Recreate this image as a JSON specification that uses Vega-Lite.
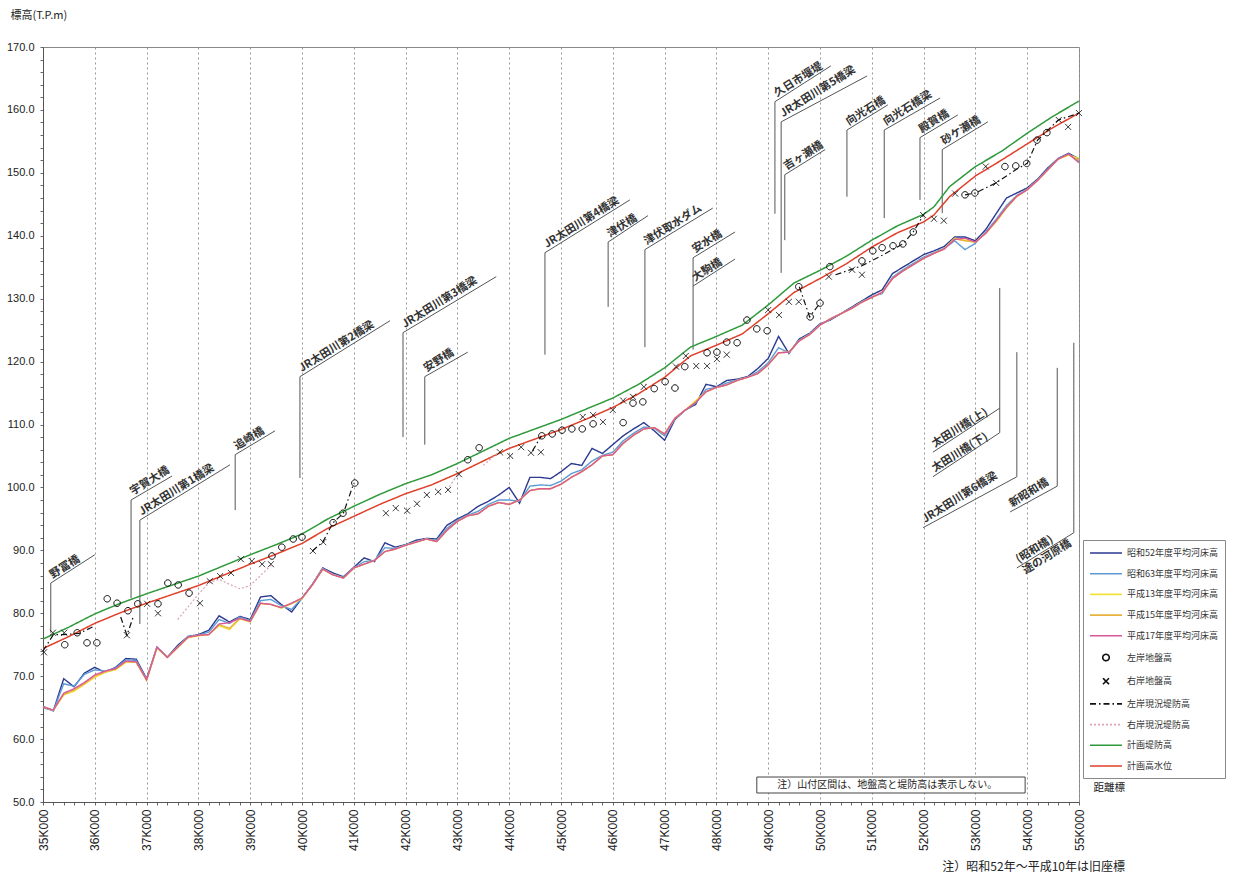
{
  "$schema": "https://vega.github.io/schema/vega-lite/v6.json",
  "width": 1036,
  "height": 755,
  "autosize": {"type": "none"},
  "padding": {"left": 43, "top": 47, "right": 161, "bottom": 79},
  "background": "white",
  "title": {"text": "注）昭和52年～平成10年は旧座標", "orient": "bottom", "anchor": "end", "frame": "group", "dx": 46, "offset": 12, "fontSize": 12, "fontWeight": "normal", "font": "Noto Sans CJK JP", "color": "#222"},
  "config": {
    "font": "Noto Sans CJK JP",
    "view": {"stroke": "#888", "strokeWidth": 1},
    "legend": {"orient": "none", "legendX": 1040, "legendY": 493, "padding": 7, "strokeColor": "#888", "fillColor": "#ffffff", "labelFontSize": 9, "labelFont": "Noto Sans CJK JP", "labelColor": "#333", "rowPadding": 9.7, "symbolStrokeWidth": 1.6, "symbolSize": 100, "symbolOffset": 10, "labelOffset": 15}
  },
  "datasets": {
    "bed": [
      {"k":35.0,"昭和52年度平均河床高":65.2,"昭和63年度平均河床高":65.0,"平成13年度平均河床高":65.1,"平成15年度平均河床高":65.1,"平成17年度平均河床高":65.1},
      {"k":35.2,"昭和52年度平均河床高":64.5,"昭和63年度平均河床高":64.5,"平成13年度平均河床高":64.6,"平成15年度平均河床高":64.6,"平成17年度平均河床高":64.6},
      {"k":35.4,"昭和52年度平均河床高":69.6,"昭和63年度平均河床高":68.8,"平成13年度平均河床高":67.0,"平成15年度平均河床高":67.1,"平成17年度平均河床高":67.3},
      {"k":35.6,"昭和52年度平均河床高":68.3,"昭和63年度平均河床高":68.4,"平成13年度平均河床高":67.6,"平成15年度平均河床高":67.8,"平成17年度平均河床高":68.0},
      {"k":35.8,"昭和52年度平均河床高":70.5,"昭和63年度平均河床高":70.3,"平成13年度平均河床高":68.7,"平成15年度平均河床高":68.8,"平成17年度平均河床高":69.0},
      {"k":36.0,"昭和52年度平均河床高":71.4,"昭和63年度平均河床高":71.0,"平成13年度平均河床高":69.8,"平成15年度平均河床高":70.0,"平成17年度平均河床高":70.2},
      {"k":36.2,"昭和52年度平均河床高":70.6,"昭和63年度平均河床高":70.8,"平成13年度平均河床高":70.6,"平成15年度平均河床高":70.7,"平成17年度平均河床高":70.8},
      {"k":36.4,"昭和52年度平均河床高":71.4,"昭和63年度平均河床高":71.3,"平成13年度平均河床高":71.0,"平成15年度平均河床高":71.1,"平成17年度平均河床高":71.2},
      {"k":36.6,"昭和52年度平均河床高":72.8,"昭和63年度平均河床高":72.6,"平成13年度平均河床高":72.2,"平成15年度平均河床高":72.3,"平成17年度平均河床高":72.4},
      {"k":36.8,"昭和52年度平均河床高":72.7,"昭和63年度平均河床高":72.5,"平成13年度平均河床高":72.2,"平成15年度平均河床高":72.2,"平成17年度平均河床高":72.3},
      {"k":37.0,"昭和52年度平均河床高":69.6,"昭和63年度平均河床高":69.5,"平成13年度平均河床高":69.3,"平成15年度平均河床高":69.4,"平成17年度平均河床高":69.4},
      {"k":37.2,"昭和52年度平均河床高":74.6,"昭和63年度平均河床高":74.6,"平成13年度平均河床高":74.5,"平成15年度平均河床高":74.5,"平成17年度平均河床高":74.6},
      {"k":37.4,"昭和52年度平均河床高":73.0,"昭和63年度平均河床高":73.0,"平成13年度平均河床高":73.0,"平成15年度平均河床高":73.0,"平成17年度平均河床高":73.0},
      {"k":37.6,"昭和52年度平均河床高":74.9,"昭和63年度平均河床高":74.7,"平成13年度平均河床高":74.5,"平成15年度平均河床高":74.6,"平成17年度平均河床高":74.6},
      {"k":37.8,"昭和52年度平均河床高":76.3,"昭和63年度平均河床高":76.3,"平成13年度平均河床高":76.1,"平成15年度平均河床高":76.2,"平成17年度平均河床高":76.2},
      {"k":38.0,"昭和52年度平均河床高":76.6,"昭和63年度平均河床高":76.5,"平成13年度平均河床高":76.4,"平成15年度平均河床高":76.5,"平成17年度平均河床高":76.5},
      {"k":38.2,"昭和52年度平均河床高":77.3,"昭和63年度平均河床高":77.0,"平成13年度平均河床高":76.6,"平成15年度平均河床高":76.6,"平成17年度平均河床高":76.6},
      {"k":38.4,"昭和52年度平均河床高":79.6,"昭和63年度平均河床高":79.0,"平成13年度平均河床高":78.0,"平成15年度平均河床高":78.2,"平成17年度平均河床高":78.3},
      {"k":38.6,"昭和52年度平均河床高":78.6,"昭和63年度平均河床高":78.4,"平成13年度平均河床高":77.4,"平成15年度平均河床高":77.6,"平成17年度平均河床高":78.5},
      {"k":38.8,"昭和52年度平均河床高":79.5,"昭和63年度平均河床高":79.4,"平成13年度平均河床高":79.1,"平成15年度平均河床高":79.2,"平成17年度平均河床高":79.2},
      {"k":39.0,"昭和52年度平均河床高":79.0,"昭和63年度平均河床高":78.8,"平成13年度平均河床高":78.6,"平成15年度平均河床高":78.7,"平成17年度平均河床高":78.7},
      {"k":39.2,"昭和52年度平均河床高":82.6,"昭和63年度平均河床高":82.0,"平成13年度平均河床高":81.5,"平成15年度平均河床高":81.6,"平成17年度平均河床高":81.6},
      {"k":39.4,"昭和52年度平均河床高":82.8,"昭和63年度平均河床高":82.2,"平成13年度平均河床高":81.4,"平成15年度平均河床高":81.4,"平成17年度平均河床高":81.4},
      {"k":39.6,"昭和52年度平均河床高":81.4,"昭和63年度平均河床高":81.2,"平成13年度平均河床高":80.8,"平成15年度平均河床高":80.9,"平成17年度平均河床高":80.9},
      {"k":39.8,"昭和52年度平均河床高":80.2,"昭和63年度平均河床高":80.6,"平成13年度平均河床高":81.5,"平成15年度平均河床高":81.6,"平成17年度平均河床高":81.6},
      {"k":40.0,"昭和52年度平均河床高":82.4,"昭和63年度平均河床高":82.4,"平成13年度平均河床高":82.3,"平成15年度平均河床高":82.4,"平成17年度平均河床高":82.4},
      {"k":40.2,"昭和52年度平均河床高":84.6,"昭和63年度平均河床高":84.6,"平成13年度平均河床高":84.5,"平成15年度平均河床高":84.5,"平成17年度平均河床高":84.5},
      {"k":40.4,"昭和52年度平均河床高":87.2,"昭和63年度平均河床高":87.1,"平成13年度平均河床高":87.0,"平成15年度平均河床高":87.0,"平成17年度平均河床高":87.0},
      {"k":40.6,"昭和52年度平均河床高":86.4,"昭和63年度平均河床高":86.2,"平成13年度平均河床高":86.1,"平成15年度平均河床高":86.1,"平成17年度平均河床高":86.1},
      {"k":40.8,"昭和52年度平均河床高":85.8,"昭和63年度平均河床高":85.7,"平成13年度平均河床高":85.6,"平成15年度平均河床高":85.6,"平成17年度平均河床高":85.6},
      {"k":41.0,"昭和52年度平均河床高":87.3,"昭和63年度平均河床高":87.2,"平成13年度平均河床高":87.2,"平成15年度平均河床高":87.2,"平成17年度平均河床高":87.2},
      {"k":41.2,"昭和52年度平均河床高":88.8,"昭和63年度平均河床高":88.2,"平成13年度平均河床高":87.8,"平成15年度平均河床高":87.8,"平成17年度平均河床高":87.8},
      {"k":41.4,"昭和52年度平均河床高":88.2,"昭和63年度平均河床高":88.4,"平成13年度平均河床高":88.4,"平成15年度平均河床高":88.4,"平成17年度平均河床高":88.4},
      {"k":41.6,"昭和52年度平均河床高":91.2,"昭和63年度平均河床高":90.4,"平成13年度平均河床高":89.8,"平成15年度平均河床高":89.8,"平成17年度平均河床高":89.8},
      {"k":41.8,"昭和52年度平均河床高":90.5,"昭和63年度平均河床高":90.3,"平成13年度平均河床高":90.2,"平成15年度平均河床高":90.2,"平成17年度平均河床高":90.2},
      {"k":42.0,"昭和52年度平均河床高":90.9,"昭和63年度平均河床高":90.9,"平成13年度平均河床高":90.8,"平成15年度平均河床高":90.8,"平成17年度平均河床高":90.8},
      {"k":42.2,"昭和52年度平均河床高":91.6,"昭和63年度平均河床高":91.4,"平成13年度平均河床高":91.3,"平成15年度平均河床高":91.3,"平成17年度平均河床高":91.3},
      {"k":42.4,"昭和52年度平均河床高":91.9,"昭和63年度平均河床高":91.8,"平成13年度平均河床高":91.8,"平成15年度平均河床高":91.8,"平成17年度平均河床高":91.8},
      {"k":42.6,"昭和52年度平均河床高":91.8,"昭和63年度平均河床高":91.6,"平成13年度平均河床高":91.4,"平成15年度平均河床高":91.4,"平成17年度平均河床高":91.4},
      {"k":42.8,"昭和52年度平均河床高":94.0,"昭和63年度平均河床高":93.5,"平成13年度平均河床高":93.2,"平成15年度平均河床高":93.2,"平成17年度平均河床高":93.2},
      {"k":43.0,"昭和52年度平均河床高":95.0,"昭和63年度平均河床高":94.8,"平成13年度平均河床高":94.6,"平成15年度平均河床高":94.6,"平成17年度平均河床高":94.6},
      {"k":43.2,"昭和52年度平均河床高":95.8,"昭和63年度平均河床高":95.6,"平成13年度平均河床高":95.5,"平成15年度平均河床高":95.5,"平成17年度平均河床高":95.5},
      {"k":43.4,"昭和52年度平均河床高":97.0,"昭和63年度平均河床高":96.2,"平成13年度平均河床高":95.8,"平成15年度平均河床高":95.8,"平成17年度平均河床高":95.8},
      {"k":43.6,"昭和52年度平均河床高":97.8,"昭和63年度平均河床高":97.3,"平成13年度平均河床高":97.0,"平成15年度平均河床高":97.0,"平成17年度平均河床高":97.0},
      {"k":43.8,"昭和52年度平均河床高":98.8,"昭和63年度平均河床高":98.0,"平成13年度平均河床高":97.6,"平成15年度平均河床高":97.6,"平成17年度平均河床高":97.6},
      {"k":44.0,"昭和52年度平均河床高":100.0,"昭和63年度平均河床高":98.0,"平成13年度平均河床高":97.3,"平成15年度平均河床高":97.3,"平成17年度平均河床高":97.3},
      {"k":44.2,"昭和52年度平均河床高":97.5,"昭和63年度平均河床高":97.8,"平成13年度平均河床高":98.0,"平成15年度平均河床高":98.0,"平成17年度平均河床高":98.0},
      {"k":44.4,"昭和52年度平均河床高":101.6,"昭和63年度平均河床高":100.2,"平成13年度平均河床高":99.5,"平成15年度平均河床高":99.5,"平成17年度平均河床高":99.5},
      {"k":44.6,"昭和52年度平均河床高":101.6,"昭和63年度平均河床高":100.4,"平成13年度平均河床高":99.8,"平成15年度平均河床高":99.8,"平成17年度平均河床高":99.8},
      {"k":44.8,"昭和52年度平均河床高":101.4,"昭和63年度平均河床高":100.3,"平成13年度平均河床高":99.8,"平成15年度平均河床高":99.8,"平成17年度平均河床高":99.8},
      {"k":45.0,"昭和52年度平均河床高":102.5,"昭和63年度平均河床高":101.0,"平成13年度平均河床高":100.5,"平成15年度平均河床高":100.5,"平成17年度平均河床高":100.5},
      {"k":45.2,"昭和52年度平均河床高":103.8,"昭和63年度平均河床高":102.2,"平成13年度平均河床高":101.6,"平成15年度平均河床高":101.6,"平成17年度平均河床高":101.6},
      {"k":45.4,"昭和52年度平均河床高":103.5,"昭和63年度平均河床高":102.8,"平成13年度平均河床高":102.5,"平成15年度平均河床高":102.5,"平成17年度平均河床高":102.5},
      {"k":45.6,"昭和52年度平均河床高":106.2,"昭和63年度平均河床高":104.2,"平成13年度平均河床高":103.6,"平成15年度平均河床高":103.6,"平成17年度平均河床高":103.6},
      {"k":45.8,"昭和52年度平均河床高":105.4,"昭和63年度平均河床高":105.1,"平成13年度平均河床高":105.0,"平成15年度平均河床高":105.0,"平成17年度平均河床高":105.0},
      {"k":46.0,"昭和52年度平均河床高":106.8,"昭和63年度平均河床高":105.6,"平成13年度平均河床高":105.2,"平成15年度平均河床高":105.2,"平成17年度平均河床高":105.2},
      {"k":46.2,"昭和52年度平均河床高":108.2,"昭和63年度平均河床高":107.4,"平成13年度平均河床高":107.0,"平成15年度平均河床高":107.0,"平成17年度平均河床高":107.0},
      {"k":46.4,"昭和52年度平均河床高":109.3,"昭和63年度平均河床高":108.6,"平成13年度平均河床高":108.3,"平成15年度平均河床高":108.3,"平成17年度平均河床高":108.3},
      {"k":46.6,"昭和52年度平均河床高":110.3,"昭和63年度平均河床高":109.6,"平成13年度平均河床高":109.3,"平成15年度平均河床高":109.3,"平成17年度平均河床高":109.3},
      {"k":46.8,"昭和52年度平均河床高":109.0,"昭和63年度平均河床高":109.4,"平成13年度平均河床高":109.5,"平成15年度平均河床高":109.5,"平成17年度平均河床高":109.5},
      {"k":47.0,"昭和52年度平均河床高":107.5,"昭和63年度平均河床高":108.2,"平成13年度平均河床高":108.5,"平成15年度平均河床高":108.5,"平成17年度平均河床高":108.5},
      {"k":47.2,"昭和52年度平均河床高":110.8,"昭和63年度平均河床高":110.9,"平成13年度平均河床高":111.0,"平成15年度平均河床高":111.0,"平成17年度平均河床高":111.0},
      {"k":47.4,"昭和52年度平均河床高":112.3,"昭和63年度平均河床高":112.3,"平成13年度平均河床高":112.3,"平成15年度平均河床高":112.3,"平成17年度平均河床高":112.3},
      {"k":47.6,"昭和52年度平均河床高":113.2,"昭和63年度平均河床高":113.4,"平成13年度平均河床高":113.8,"平成15年度平均河床高":113.6,"平成17年度平均河床高":113.5},
      {"k":47.8,"昭和52年度平均河床高":116.4,"昭和63年度平均河床高":115.6,"平成13年度平均河床高":115.2,"平成15年度平均河床高":115.2,"平成17年度平均河床高":115.2},
      {"k":48.0,"昭和52年度平均河床高":116.0,"昭和63年度平均河床高":115.9,"平成13年度平均河床高":115.9,"平成15年度平均河床高":115.9,"平成17年度平均河床高":115.9},
      {"k":48.2,"昭和52年度平均河床高":117.0,"昭和63年度平均河床高":116.6,"平成13年度平均河床高":116.3,"平成15年度平均河床高":116.3,"平成17年度平均河床高":116.3},
      {"k":48.4,"昭和52年度平均河床高":117.2,"昭和63年度平均河床高":117.1,"平成13年度平均河床高":117.0,"平成15年度平均河床高":117.0,"平成17年度平均河床高":117.0},
      {"k":48.6,"昭和52年度平均河床高":117.6,"昭和63年度平均河床高":117.5,"平成13年度平均河床高":117.5,"平成15年度平均河床高":117.5,"平成17年度平均河床高":117.5},
      {"k":48.8,"昭和52年度平均河床高":118.9,"昭和63年度平均河床高":118.4,"平成13年度平均河床高":118.1,"平成15年度平均河床高":118.1,"平成17年度平均河床高":118.1},
      {"k":49.0,"昭和52年度平均河床高":120.5,"昭和63年度平均河床高":119.8,"平成13年度平均河床高":119.5,"平成15年度平均河床高":119.5,"平成17年度平均河床高":119.5},
      {"k":49.2,"昭和52年度平均河床高":124.0,"昭和63年度平均河床高":122.2,"平成13年度平均河床高":121.4,"平成15年度平均河床高":121.4,"平成17年度平均河床高":121.4},
      {"k":49.4,"昭和52年度平均河床高":121.3,"昭和63年度平均河床高":121.4,"平成13年度平均河床高":121.5,"平成15年度平均河床高":121.5,"平成17年度平均河床高":121.5},
      {"k":49.6,"昭和52年度平均河床高":123.6,"昭和63年度平均河床高":123.4,"平成13年度平均河床高":123.3,"平成15年度平均河床高":123.3,"平成17年度平均河床高":123.3},
      {"k":49.8,"昭和52年度平均河床高":124.5,"昭和63年度平均河床高":124.4,"平成13年度平均河床高":124.3,"平成15年度平均河床高":124.3,"平成17年度平均河床高":124.3},
      {"k":50.0,"昭和52年度平均河床高":126.0,"昭和63年度平均河床高":125.9,"平成13年度平均河床高":125.8,"平成15年度平均河床高":125.8,"平成17年度平均河床高":125.8},
      {"k":50.2,"昭和52年度平均河床高":126.6,"昭和63年度平均河床高":126.7,"平成13年度平均河床高":126.8,"平成15年度平均河床高":126.8,"平成17年度平均河床高":126.8},
      {"k":50.4,"昭和52年度平均河床高":127.6,"昭和63年度平均河床高":127.6,"平成13年度平均河床高":127.6,"平成15年度平均河床高":127.6,"平成17年度平均河床高":127.6},
      {"k":50.6,"昭和52年度平均河床高":128.6,"昭和63年度平均河床高":128.5,"平成13年度平均河床高":128.4,"平成15年度平均河床高":128.4,"平成17年度平均河床高":128.4},
      {"k":50.8,"昭和52年度平均河床高":129.6,"昭和63年度平均河床高":129.5,"平成13年度平均河床高":129.4,"平成15年度平均河床高":129.4,"平成17年度平均河床高":129.4},
      {"k":51.0,"昭和52年度平均河床高":130.6,"昭和63年度平均河床高":130.3,"平成13年度平均河床高":130.2,"平成15年度平均河床高":130.2,"平成17年度平均河床高":130.2},
      {"k":51.2,"昭和52年度平均河床高":131.4,"昭和63年度平均河床高":130.8,"平成13年度平均河床高":131.0,"平成15年度平均河床高":131.0,"平成17年度平均河床高":131.0},
      {"k":51.4,"昭和52年度平均河床高":134.0,"昭和63年度平均河床高":133.4,"平成13年度平均河床高":133.2,"平成15年度平均河床高":133.2,"平成17年度平均河床高":133.2},
      {"k":51.6,"昭和52年度平均河床高":135.0,"昭和63年度平均河床高":134.6,"平成13年度平均河床高":134.4,"平成15年度平均河床高":134.4,"平成17年度平均河床高":134.4},
      {"k":51.8,"昭和52年度平均河床高":136.0,"昭和63年度平均河床高":135.6,"平成13年度平均河床高":135.4,"平成15年度平均河床高":135.4,"平成17年度平均河床高":135.4},
      {"k":52.0,"昭和52年度平均河床高":137.0,"昭和63年度平均河床高":136.6,"平成13年度平均河床高":136.4,"平成15年度平均河床高":136.4,"平成17年度平均河床高":136.4},
      {"k":52.2,"昭和52年度平均河床高":137.6,"昭和63年度平均河床高":137.3,"平成13年度平均河床高":137.2,"平成15年度平均河床高":137.2,"平成17年度平均河床高":137.2},
      {"k":52.4,"昭和52年度平均河床高":138.3,"昭和63年度平均河床高":138.0,"平成13年度平均河床高":137.9,"平成15年度平均河床高":137.9,"平成17年度平均河床高":137.9},
      {"k":52.6,"昭和52年度平均河床高":139.8,"昭和63年度平均河床高":139.2,"平成13年度平均河床高":139.6,"平成15年度平均河床高":139.5,"平成17年度平均河床高":139.4},
      {"k":52.8,"昭和52年度平均河床高":139.8,"昭和63年度平均河床高":137.8,"平成13年度平均河床高":139.3,"平成15年度平均河床高":139.2,"平成17年度平均河床高":139.6},
      {"k":53.0,"昭和52年度平均河床高":139.2,"昭和63年度平均河床高":138.8,"平成13年度平均河床高":139.0,"平成15年度平均河床高":139.0,"平成17年度平均河床高":139.0},
      {"k":53.2,"昭和52年度平均河床高":141.0,"昭和63年度平均河床高":140.6,"平成13年度平均河床高":140.4,"平成15年度平均河床高":140.4,"平成17年度平均河床高":140.4},
      {"k":53.4,"昭和52年度平均河床高":143.5,"昭和63年度平均河床高":142.6,"平成13年度平均河床高":142.2,"平成15年度平均河床高":142.3,"平成17年度平均河床高":142.4},
      {"k":53.6,"昭和52年度平均河床高":146.0,"昭和63年度平均河床高":144.8,"平成13年度平均河床高":144.4,"平成15年度平均河床高":144.5,"平成17年度平均河床高":144.5},
      {"k":53.8,"昭和52年度平均河床高":146.8,"昭和63年度平均河床高":146.4,"平成13年度平均河床高":146.2,"平成15年度平均河床高":146.3,"平成17年度平均河床高":146.3},
      {"k":54.0,"昭和52年度平均河床高":147.6,"昭和63年度平均河床高":147.4,"平成13年度平均河床高":147.3,"平成15年度平均河床高":147.3,"平成17年度平均河床高":147.3},
      {"k":54.2,"昭和52年度平均河床高":149.0,"昭和63年度平均河床高":148.9,"平成13年度平均河床高":148.8,"平成15年度平均河床高":148.8,"平成17年度平均河床高":148.8},
      {"k":54.4,"昭和52年度平均河床高":150.8,"昭和63年度平均河床高":150.6,"平成13年度平均河床高":150.5,"平成15年度平均河床高":150.5,"平成17年度平均河床高":150.5},
      {"k":54.6,"昭和52年度平均河床高":152.3,"昭和63年度平均河床高":152.2,"平成13年度平均河床高":152.2,"平成15年度平均河床高":152.2,"平成17年度平均河床高":152.2},
      {"k":54.8,"昭和52年度平均河床高":153.1,"昭和63年度平均河床高":153.0,"平成13年度平均河床高":152.8,"平成15年度平均河床高":152.9,"平成17年度平均河床高":153.0},
      {"k":55.0,"昭和52年度平均河床高":152.2,"昭和63年度平均河床高":151.8,"平成13年度平均河床高":152.3,"平成15年度平均河床高":152.0,"平成17年度平均河床高":151.6}
    ],
    "plan": [
      {"k":35.0,"計画堤防高":75.9,"計画高水位":74.4},
      {"k":35.5,"計画堤防高":77.8,"計画高水位":76.3},
      {"k":36.0,"計画堤防高":79.9,"計画高水位":78.4},
      {"k":36.5,"計画堤防高":81.6,"計画高水位":80.1},
      {"k":37.0,"計画堤防高":83.1,"計画高水位":81.6},
      {"k":37.5,"計画堤防高":84.5,"計画高水位":83.0},
      {"k":38.0,"計画堤防高":85.9,"計画高水位":84.4},
      {"k":38.5,"計画堤防高":87.6,"計画高水位":86.1},
      {"k":39.0,"計画堤防高":89.3,"計画高水位":87.8},
      {"k":39.5,"計画堤防高":90.9,"計画高水位":89.4},
      {"k":40.0,"計画堤防高":92.6,"計画高水位":91.1},
      {"k":40.5,"計画堤防高":95.0,"計画高水位":93.5},
      {"k":41.0,"計画堤防高":97.0,"計画高水位":95.4},
      {"k":41.5,"計画堤防高":98.9,"計画高水位":97.3},
      {"k":42.0,"計画堤防高":100.6,"計画高水位":99.0},
      {"k":42.5,"計画堤防高":102.0,"計画高水位":100.4},
      {"k":43.0,"計画堤防高":103.8,"計画高水位":102.2},
      {"k":43.5,"計画堤防高":105.8,"計画高水位":104.2},
      {"k":44.0,"計画堤防高":107.8,"計画高水位":106.2},
      {"k":44.5,"計画堤防高":109.3,"計画高水位":107.7},
      {"k":45.0,"計画堤防高":110.8,"計画高水位":109.2},
      {"k":45.5,"計画堤防高":112.5,"計画高水位":110.9},
      {"k":46.0,"計画堤防高":114.2,"計画高水位":112.7},
      {"k":46.5,"計画堤防高":116.4,"計画高水位":114.9},
      {"k":47.0,"計画堤防高":119.0,"計画高水位":117.5},
      {"k":47.5,"計画堤防高":122.3,"計画高水位":120.9},
      {"k":48.0,"計画堤防高":124.0,"計画高水位":122.6},
      {"k":48.5,"計画堤防高":125.8,"計画高水位":124.4},
      {"k":49.0,"計画堤防高":129.0,"計画高水位":127.6},
      {"k":49.5,"計画堤防高":132.5,"計画高水位":131.0},
      {"k":50.0,"計画堤防高":134.5,"計画高水位":133.2},
      {"k":50.5,"計画堤防高":136.7,"計画高水位":135.5},
      {"k":51.0,"計画堤防高":139.3,"計画高水位":138.2},
      {"k":51.5,"計画堤防高":141.6,"計画高水位":140.5},
      {"k":52.0,"計画堤防高":143.4,"計画高水位":142.2},
      {"k":52.2,"計画堤防高":144.6,"計画高水位":143.3},
      {"k":52.5,"計画堤防高":147.8,"計画高水位":146.2},
      {"k":53.0,"計画堤防高":151.0,"計画高水位":149.5},
      {"k":53.5,"計画堤防高":153.4,"計画高水位":152.0},
      {"k":54.0,"計画堤防高":156.3,"計画高水位":154.6},
      {"k":54.5,"計画堤防高":159.0,"計画高水位":157.2},
      {"k":55.0,"計画堤防高":161.4,"計画高水位":159.5}
    ],
    "levee": [
      {"s":"左岸現況堤防高","g":1,"k":35.0,"v":74.0},{"s":"左岸現況堤防高","g":1,"k":35.2,"v":76.6},{"s":"左岸現況堤防高","g":1,"k":35.4,"v":76.6},{"s":"左岸現況堤防高","g":1,"k":35.7,"v":76.8},{"s":"左岸現況堤防高","g":1,"k":36.0,"v":78.0},
      {"s":"左岸現況堤防高","g":2,"k":36.5,"v":79.4},{"s":"左岸現況堤防高","g":2,"k":36.62,"v":76.5},{"s":"左岸現況堤防高","g":2,"k":36.75,"v":79.6},
      {"s":"左岸現況堤防高","g":3,"k":40.2,"v":89.9},{"s":"左岸現況堤防高","g":3,"k":40.4,"v":91.3},{"s":"左岸現況堤防高","g":3,"k":40.6,"v":94.4},{"s":"左岸現況堤防高","g":3,"k":40.8,"v":95.9},{"s":"左岸現況堤防高","g":3,"k":41.0,"v":100.7},
      {"s":"左岸現況堤防高","g":4,"k":44.45,"v":105.8},{"s":"左岸現況堤防高","g":4,"k":44.62,"v":108.2},
      {"s":"左岸現況堤防高","g":5,"k":49.6,"v":131.9},{"s":"左岸現況堤防高","g":5,"k":49.8,"v":127.1},{"s":"左岸現況堤防高","g":5,"k":50.0,"v":129.3},
      {"s":"左岸現況堤防高","g":6,"k":50.3,"v":133.8},{"s":"左岸現況堤防高","g":6,"k":50.8,"v":135.2},{"s":"左岸現況堤防高","g":6,"k":51.2,"v":136.9},{"s":"左岸現況堤防高","g":6,"k":51.6,"v":138.7},{"s":"左岸現況堤防高","g":6,"k":51.8,"v":140.6},{"s":"左岸現況堤防高","g":6,"k":52.0,"v":143.3},
      {"s":"左岸現況堤防高","g":7,"k":52.8,"v":146.5},{"s":"左岸現況堤防高","g":7,"k":53.0,"v":146.8},{"s":"左岸現況堤防高","g":7,"k":53.4,"v":148.4},{"s":"左岸現況堤防高","g":7,"k":53.8,"v":150.6},{"s":"左岸現況堤防高","g":7,"k":54.0,"v":151.5},{"s":"左岸現況堤防高","g":7,"k":54.2,"v":155.2},{"s":"左岸現況堤防高","g":7,"k":54.6,"v":158.4},{"s":"左岸現況堤防高","g":7,"k":55.0,"v":159.5},
      {"s":"右岸現況堤防高","g":11,"k":37.6,"v":79.0},{"s":"右岸現況堤防高","g":11,"k":37.8,"v":81.0},{"s":"右岸現況堤防高","g":11,"k":38.0,"v":83.0},{"s":"右岸現況堤防高","g":11,"k":38.2,"v":84.8},{"s":"右岸現況堤防高","g":11,"k":38.4,"v":85.4},{"s":"右岸現況堤防高","g":11,"k":38.6,"v":84.6},{"s":"右岸現況堤防高","g":11,"k":38.8,"v":83.9},{"s":"右岸現況堤防高","g":11,"k":39.0,"v":84.4},{"s":"右岸現況堤防高","g":11,"k":39.2,"v":86.0},{"s":"右岸現況堤防高","g":11,"k":39.4,"v":87.6},
      {"s":"右岸現況堤防高","g":12,"k":42.8,"v":99.6},{"s":"右岸現況堤防高","g":12,"k":43.0,"v":102.0},
      {"s":"右岸現況堤防高","g":13,"k":43.5,"v":103.5},{"s":"右岸現況堤防高","g":13,"k":43.8,"v":105.6}
    ],
    "pts": [
      {"s":"左岸地盤高","k":35.42,"v":75.0},{"s":"左岸地盤高","k":35.66,"v":76.9},{"s":"左岸地盤高","k":35.85,"v":75.3},{"s":"左岸地盤高","k":36.04,"v":75.3},{"s":"左岸地盤高","k":36.24,"v":82.3},{"s":"左岸地盤高","k":36.43,"v":81.6},{"s":"左岸地盤高","k":36.64,"v":80.4},{"s":"左岸地盤高","k":36.83,"v":81.5},{"s":"左岸地盤高","k":37.22,"v":81.5},{"s":"左岸地盤高","k":37.41,"v":84.8},{"s":"左岸地盤高","k":37.61,"v":84.5},{"s":"左岸地盤高","k":37.82,"v":83.2},
      {"s":"左岸地盤高","k":39.42,"v":89.1},{"s":"左岸地盤高","k":39.61,"v":90.5},{"s":"左岸地盤高","k":39.83,"v":91.8},{"s":"左岸地盤高","k":40.0,"v":92.1},{"s":"左岸地盤高","k":40.6,"v":94.4},{"s":"左岸地盤高","k":40.79,"v":95.9},{"s":"左岸地盤高","k":41.02,"v":100.7},
      {"s":"左岸地盤高","k":43.2,"v":104.4},{"s":"左岸地盤高","k":43.42,"v":106.3},{"s":"左岸地盤高","k":44.63,"v":108.2},{"s":"左岸地盤高","k":44.83,"v":108.5},{"s":"左岸地盤高","k":45.02,"v":109.1},{"s":"左岸地盤高","k":45.21,"v":109.3},{"s":"左岸地盤高","k":45.41,"v":109.3},{"s":"左岸地盤高","k":45.62,"v":110.1},{"s":"左岸地盤高","k":46.2,"v":110.3},{"s":"左岸地盤高","k":46.39,"v":113.4},{"s":"左岸地盤高","k":46.58,"v":113.6},{"s":"左岸地盤高","k":46.8,"v":115.7},{"s":"左岸地盤高","k":47.01,"v":116.8},{"s":"左岸地盤高","k":47.2,"v":115.8},{"s":"左岸地盤高","k":47.39,"v":119.2},{"s":"左岸地盤高","k":47.82,"v":121.4},{"s":"左岸地盤高","k":48.01,"v":121.5},{"s":"左岸地盤高","k":48.2,"v":123.1},{"s":"左岸地盤高","k":48.4,"v":123.0},{"s":"左岸地盤高","k":48.59,"v":126.6},{"s":"左岸地盤高","k":48.78,"v":125.2},{"s":"左岸地盤高","k":48.98,"v":124.9},
      {"s":"左岸地盤高","k":49.59,"v":131.9},{"s":"左岸地盤高","k":49.81,"v":127.1},{"s":"左岸地盤高","k":50.0,"v":129.3},{"s":"左岸地盤高","k":50.19,"v":135.1},{"s":"左岸地盤高","k":50.81,"v":136.0},{"s":"左岸地盤高","k":51.02,"v":137.6},{"s":"左岸地盤高","k":51.2,"v":138.1},{"s":"左岸地盤高","k":51.41,"v":138.4},{"s":"左岸地盤高","k":51.6,"v":138.7},{"s":"左岸地盤高","k":51.8,"v":140.6},{"s":"左岸地盤高","k":52.8,"v":146.5},{"s":"左岸地盤高","k":52.99,"v":146.8},{"s":"左岸地盤高","k":53.57,"v":151.0},{"s":"左岸地盤高","k":53.78,"v":151.1},{"s":"左岸地盤高","k":53.99,"v":151.5},{"s":"左岸地盤高","k":54.19,"v":155.2},{"s":"左岸地盤高","k":54.38,"v":156.4},
      {"s":"右岸地盤高","k":35.02,"v":73.8},{"s":"右岸地盤高","k":35.19,"v":76.9},{"s":"右岸地盤高","k":35.41,"v":76.9},{"s":"右岸地盤高","k":36.62,"v":76.5},{"s":"右岸地盤高","k":37.01,"v":81.5},{"s":"右岸地盤高","k":37.22,"v":80.0},{"s":"右岸地盤高","k":38.03,"v":81.6},{"s":"右岸地盤高","k":38.22,"v":85.1},{"s":"右岸地盤高","k":38.42,"v":85.9},{"s":"右岸地盤高","k":38.63,"v":86.4},{"s":"右岸地盤高","k":38.82,"v":88.6},{"s":"右岸地盤高","k":39.03,"v":88.3},{"s":"右岸地盤高","k":39.23,"v":87.8},{"s":"右岸地盤高","k":39.4,"v":87.8},{"s":"右岸地盤高","k":40.21,"v":89.9},{"s":"右岸地盤高","k":40.41,"v":91.3},
      {"s":"右岸地盤高","k":41.62,"v":95.9},{"s":"右岸地盤高","k":41.81,"v":96.7},{"s":"右岸地盤高","k":42.03,"v":96.3},{"s":"右岸地盤高","k":42.22,"v":97.4},{"s":"右岸地盤高","k":42.41,"v":98.8},{"s":"右岸地盤高","k":42.63,"v":99.3},{"s":"右岸地盤高","k":42.82,"v":99.6},{"s":"右岸地盤高","k":43.03,"v":102.1},{"s":"右岸地盤高","k":43.82,"v":105.6},{"s":"右岸地盤高","k":44.02,"v":105.0},{"s":"右岸地盤高","k":44.23,"v":106.4},{"s":"右岸地盤高","k":44.42,"v":105.5},{"s":"右岸地盤高","k":44.61,"v":105.6},
      {"s":"右岸地盤高","k":45.42,"v":111.2},{"s":"右岸地盤高","k":45.62,"v":111.5},{"s":"右岸地盤高","k":45.81,"v":110.4},{"s":"右岸地盤高","k":46.0,"v":112.3},{"s":"右岸地盤高","k":46.2,"v":113.8},{"s":"右岸地盤高","k":46.39,"v":114.4},{"s":"右岸地盤高","k":46.6,"v":116.0},{"s":"右岸地盤高","k":47.22,"v":119.2},{"s":"右岸地盤高","k":47.41,"v":120.9},{"s":"右岸地盤高","k":47.61,"v":119.3},{"s":"右岸地盤高","k":47.82,"v":119.3},{"s":"右岸地盤高","k":48.01,"v":120.4},{"s":"右岸地盤高","k":48.2,"v":121.1},
      {"s":"右岸地盤高","k":49.0,"v":128.2},{"s":"右岸地盤高","k":49.21,"v":127.4},{"s":"右岸地盤高","k":49.4,"v":129.5},{"s":"右岸地盤高","k":49.59,"v":129.5},{"s":"右岸地盤高","k":50.17,"v":133.5},{"s":"右岸地盤高","k":50.62,"v":134.6},{"s":"右岸地盤高","k":50.81,"v":133.8},{"s":"右岸地盤高","k":51.99,"v":143.3},{"s":"右岸地盤高","k":52.2,"v":142.7},{"s":"右岸地盤高","k":52.39,"v":142.4},{"s":"右岸地盤高","k":52.61,"v":146.7},{"s":"右岸地盤高","k":53.2,"v":151.0},{"s":"右岸地盤高","k":53.4,"v":148.4},{"s":"右岸地盤高","k":54.61,"v":158.4},{"s":"右岸地盤高","k":54.79,"v":157.3},{"s":"右岸地盤高","k":55.0,"v":159.5}
    ],
    "ann": [
      {"k":35.15,"v":76.9,"k2":35.15,"v2":84.8},{"k":35.15,"v":84.8,"k2":36.0,"v2":89.3},
      {"k":36.7,"v":82.4,"k2":36.7,"v2":98.0},{"k":36.7,"v":98.0,"k2":37.49,"v2":101.8},
      {"k":36.87,"v":78.3,"k2":36.87,"v2":94.8},{"k":36.87,"v":94.8,"k2":38.61,"v2":103.6},
      {"k":38.71,"v":96.4,"k2":38.71,"v2":105.2},{"k":38.71,"v":105.2,"k2":39.48,"v2":109.0},
      {"k":39.96,"v":101.5,"k2":39.96,"v2":117.6},{"k":39.96,"v":117.6,"k2":41.7,"v2":126.5},
      {"k":41.95,"v":108.0,"k2":41.95,"v2":124.6},{"k":41.95,"v":124.6,"k2":43.75,"v2":133.5},
      {"k":42.37,"v":106.8,"k2":42.37,"v2":117.6},{"k":42.37,"v":117.6,"k2":43.2,"v2":121.5},
      {"k":44.69,"v":121.1,"k2":44.69,"v2":137.3},{"k":44.69,"v":137.3,"k2":46.33,"v2":145.7},
      {"k":45.91,"v":128.7,"k2":45.91,"v2":139.0},{"k":45.91,"v":139.0,"k2":46.68,"v2":143.2},
      {"k":46.62,"v":122.3,"k2":46.62,"v2":137.8},{"k":46.62,"v":137.8,"k2":47.93,"v2":144.4},
      {"k":47.55,"v":121.9,"k2":47.55,"v2":136.5},{"k":47.55,"v":136.5,"k2":48.36,"v2":140.6},
      {"k":47.55,"v":132.0,"k2":48.36,"v2":136.3},
      {"k":49.13,"v":143.5,"k2":49.13,"v2":161.3},{"k":49.13,"v":161.3,"k2":50.21,"v2":167.0},
      {"k":49.25,"v":134.1,"k2":49.25,"v2":158.1},{"k":49.25,"v":158.1,"k2":50.91,"v2":165.4},
      {"k":49.32,"v":139.3,"k2":49.32,"v2":149.7},{"k":49.32,"v":149.7,"k2":50.1,"v2":153.7},
      {"k":50.52,"v":146.2,"k2":50.52,"v2":156.8},{"k":50.52,"v":156.8,"k2":51.31,"v2":160.8},
      {"k":51.24,"v":142.8,"k2":51.24,"v2":156.8},{"k":51.24,"v":156.8,"k2":52.32,"v2":161.9},
      {"k":51.93,"v":145.7,"k2":51.93,"v2":155.6},{"k":51.93,"v":155.6,"k2":52.66,"v2":159.2},
      {"k":52.36,"v":143.6,"k2":52.36,"v2":153.7},{"k":52.36,"v":153.7,"k2":53.24,"v2":158.1},
      {"k":53.47,"v":108.7,"k2":53.47,"v2":131.7},{"k":52.18,"v":105.6,"k2":53.47,"v2":112.6},{"k":52.18,"v":101.7,"k2":53.47,"v2":108.7},
      {"k":53.8,"v":101.7,"k2":53.8,"v2":121.5},{"k":51.99,"v":93.6,"k2":53.8,"v2":101.7},
      {"k":54.58,"v":100.2,"k2":54.58,"v2":119.0},{"k":53.67,"v":96.1,"k2":54.58,"v2":100.2},
      {"k":54.9,"v":92.8,"k2":54.9,"v2":123.0},{"k":53.8,"v":87.2,"k2":54.9,"v2":92.8}
    ],
    "lab": [
      {"t":"野冨橋","k":35.15,"v":84.8},
      {"t":"宇賀大橋","k":36.7,"v":98.0},
      {"t":"JR太田川第1橋梁","k":36.87,"v":94.8},
      {"t":"追崎橋","k":38.71,"v":105.2},
      {"t":"JR太田川第2橋梁","k":39.96,"v":117.6},
      {"t":"JR太田川第3橋梁","k":41.95,"v":124.6},
      {"t":"安野橋","k":42.37,"v":117.6},
      {"t":"JR太田川第4橋梁","k":44.69,"v":137.3},
      {"t":"津伏橋","k":45.91,"v":139.0},
      {"t":"津伏取水ダム","k":46.62,"v":137.8},
      {"t":"安水橋","k":47.55,"v":136.5},
      {"t":"大駒橋","k":47.55,"v":132.0},
      {"t":"久日市堰堤","k":49.13,"v":161.3},
      {"t":"JR太田川第5橋梁","k":49.25,"v":158.1},
      {"t":"吉ヶ瀬橋","k":49.32,"v":149.7},
      {"t":"向光石橋","k":50.52,"v":156.8},
      {"t":"向光石橋梁","k":51.24,"v":156.8},
      {"t":"殿賀橋","k":51.93,"v":155.6},
      {"t":"砂ケ瀬橋","k":52.36,"v":153.7},
      {"t":"太田川橋(上)","k":52.18,"v":105.6},
      {"t":"太田川橋(下)","k":52.18,"v":101.7},
      {"t":"JR太田川第6橋梁","k":51.99,"v":93.6},
      {"t":"新昭和橋","k":53.67,"v":96.1},
      {"t":"(昭和橋)\n途の河原橋","k":53.8,"v":87.2}
    ]
  },
  "layer": [
    {
      "data": {"values": [{"k":48.78,"k2":53.96,"v":51.43,"v2":53.97}]},
      "mark": {"type": "rect", "fill": "#ffffff", "stroke": "#444", "strokeWidth": 1},
      "encoding": {
        "x": {"field": "k", "type": "quantitative", "scale": {"domain": [35, 55], "nice": false, "zero": false},
          "axis": {"title": "距離標", "titleAngle": 0, "titleAlign": "left", "titleBaseline": "middle", "titleX": 1050, "titleY": -15, "titleFontSize": 10.5, "titleFontWeight": "normal", "titleFont": "Noto Sans CJK JP", "titleColor": "#222",
            "tickCount": 100, "labelExpr": "abs(datum.value - round(datum.value)) < 0.01 ? round(datum.value) + 'K000' : ''",
            "labelAngle": 270, "labelFontSize": 12, "labelFont": "Liberation Sans", "labelColor": "#222", "labelPadding": 4, "labelOverlap": false, "labelBound": false, "labelFlush": false,
            "grid": true, "gridDash": [2, 3], "gridColor": "#999",
            "gridOpacity": {"condition": {"test": "abs(datum.value - round(datum.value)) < 0.01", "value": 1}, "value": 0},
            "tickSize": 3, "tickColor": "#666", "domainColor": "#555"}},
        "x2": {"field": "k2"},
        "y": {"field": "v", "type": "quantitative", "scale": {"domain": [50, 170], "nice": false, "zero": false},
          "axis": {"title": "標高(T.P.m)", "titleAngle": 0, "titleAlign": "left", "titleBaseline": "middle", "titleX": -33, "titleY": -32, "titleFontSize": 11, "titleFontWeight": "normal", "titleFont": "Noto Sans CJK JP", "titleColor": "#222",
            "tickCount": 60, "labelExpr": "datum.value % 10 == 0 ? format(datum.value, '.1f') : ''",
            "labelFontSize": 11, "labelFont": "Liberation Sans", "labelColor": "#222", "labelPadding": 6, "labelOverlap": false,
            "grid": false, "tickSize": 3, "tickColor": "#666", "domainColor": "#555"}},
        "y2": {"field": "v2"}
      }
    },
    {
      "data": {"values": [{"k":51.3,"v":52.7,"t":"注）山付区間は、地盤高と堤防高は表示しない。"}]},
      "mark": {"type": "text", "fontSize": 10, "color": "#222", "align": "center", "baseline": "middle"},
      "encoding": {
        "x": {"field": "k", "type": "quantitative", "scale": {"domain": [35, 55], "nice": false, "zero": false}},
        "y": {"field": "v", "type": "quantitative", "scale": {"domain": [50, 170], "nice": false, "zero": false}},
        "text": {"field": "t"}
      }
    },
    {
      "data": {"name": "ann"},
      "mark": {"type": "rule", "color": "#555", "strokeWidth": 1},
      "encoding": {
        "x": {"field": "k", "type": "quantitative", "scale": {"domain": [35, 55], "nice": false, "zero": false}},
        "y": {"field": "v", "type": "quantitative", "scale": {"domain": [50, 170], "nice": false, "zero": false}},
        "x2": {"field": "k2"},
        "y2": {"field": "v2"}
      }
    },
    {
      "data": {"name": "lab"},
      "mark": {"type": "text", "angle": 328, "align": "left", "baseline": "bottom", "dx": 4, "dy": -1, "fontSize": 11, "fontWeight": "bold", "color": "#333", "lineBreak": "\n"},
      "encoding": {
        "x": {"field": "k", "type": "quantitative", "scale": {"domain": [35, 55], "nice": false, "zero": false}},
        "y": {"field": "v", "type": "quantitative", "scale": {"domain": [50, 170], "nice": false, "zero": false}},
        "text": {"field": "t"}
      }
    },
    {
      "data": {"name": "bed"},
      "transform": [{"fold": ["昭和52年度平均河床高", "昭和63年度平均河床高", "平成13年度平均河床高", "平成15年度平均河床高", "平成17年度平均河床高"], "as": ["s", "v"]}],
      "mark": {"type": "line", "strokeWidth": 1.4},
      "encoding": {
        "x": {"field": "k", "type": "quantitative", "scale": {"domain": [35, 55], "nice": false, "zero": false}},
        "y": {"field": "v", "type": "quantitative", "scale": {"domain": [50, 170], "nice": false, "zero": false}},
        "color": {"field": "s", "type": "nominal", "scale": {"domain": ["昭和52年度平均河床高","昭和63年度平均河床高","平成13年度平均河床高","平成15年度平均河床高","平成17年度平均河床高","左岸地盤高","右岸地盤高","左岸現況堤防高","右岸現況堤防高","計画堤防高","計画高水位"], "range": ["#2b3990","#5b9bd5","#f2e33a","#e9b23c","#d9589b","#111111","#111111","#111111","#d9a3b8","#2f9a3c","#e0402a"]}, "legend": {"title": null}},
        "strokeDash": {"field": "s", "type": "nominal", "scale": {"domain": ["昭和52年度平均河床高","昭和63年度平均河床高","平成13年度平均河床高","平成15年度平均河床高","平成17年度平均河床高","左岸地盤高","右岸地盤高","左岸現況堤防高","右岸現況堤防高","計画堤防高","計画高水位"], "range": [[1,0],[1,0],[1,0],[1,0],[1,0],[1,0],[1,0],[6,3,1.5,3],[2,2],[1,0],[1,0]]}, "legend": {"title": null}}
      }
    },
    {
      "data": {"name": "plan"},
      "transform": [{"fold": ["計画堤防高", "計画高水位"], "as": ["s", "v"]}],
      "mark": {"type": "line", "strokeWidth": 1.5},
      "encoding": {
        "x": {"field": "k", "type": "quantitative", "scale": {"domain": [35, 55], "nice": false, "zero": false}},
        "y": {"field": "v", "type": "quantitative", "scale": {"domain": [50, 170], "nice": false, "zero": false}},
        "color": {"field": "s", "type": "nominal", "scale": {"domain": ["昭和52年度平均河床高","昭和63年度平均河床高","平成13年度平均河床高","平成15年度平均河床高","平成17年度平均河床高","左岸地盤高","右岸地盤高","左岸現況堤防高","右岸現況堤防高","計画堤防高","計画高水位"], "range": ["#2b3990","#5b9bd5","#f2e33a","#e9b23c","#d9589b","#111111","#111111","#111111","#d9a3b8","#2f9a3c","#e0402a"]}, "legend": {"title": null}},
        "strokeDash": {"field": "s", "type": "nominal", "scale": {"domain": ["昭和52年度平均河床高","昭和63年度平均河床高","平成13年度平均河床高","平成15年度平均河床高","平成17年度平均河床高","左岸地盤高","右岸地盤高","左岸現況堤防高","右岸現況堤防高","計画堤防高","計画高水位"], "range": [[1,0],[1,0],[1,0],[1,0],[1,0],[1,0],[1,0],[6,3,1.5,3],[2,2],[1,0],[1,0]]}, "legend": {"title": null}}
      }
    },
    {
      "data": {"name": "levee"},
      "mark": {"type": "line", "strokeWidth": 1.2},
      "encoding": {
        "x": {"field": "k", "type": "quantitative", "scale": {"domain": [35, 55], "nice": false, "zero": false}},
        "y": {"field": "v", "type": "quantitative", "scale": {"domain": [50, 170], "nice": false, "zero": false}},
        "detail": {"field": "g", "type": "nominal"},
        "color": {"field": "s", "type": "nominal", "scale": {"domain": ["昭和52年度平均河床高","昭和63年度平均河床高","平成13年度平均河床高","平成15年度平均河床高","平成17年度平均河床高","左岸地盤高","右岸地盤高","左岸現況堤防高","右岸現況堤防高","計画堤防高","計画高水位"], "range": ["#2b3990","#5b9bd5","#f2e33a","#e9b23c","#d9589b","#111111","#111111","#111111","#d9a3b8","#2f9a3c","#e0402a"]}, "legend": {"title": null}},
        "strokeDash": {"field": "s", "type": "nominal", "scale": {"domain": ["昭和52年度平均河床高","昭和63年度平均河床高","平成13年度平均河床高","平成15年度平均河床高","平成17年度平均河床高","左岸地盤高","右岸地盤高","左岸現況堤防高","右岸現況堤防高","計画堤防高","計画高水位"], "range": [[1,0],[1,0],[1,0],[1,0],[1,0],[1,0],[1,0],[6,3,1.5,3],[2,2],[1,0],[1,0]]}, "legend": {"title": null}}
      }
    },
    {
      "data": {"name": "pts"},
      "mark": {"type": "point", "filled": false, "size": 100, "strokeWidth": 1, "opacity": 1},
      "encoding": {
        "x": {"field": "k", "type": "quantitative", "scale": {"domain": [35, 55], "nice": false, "zero": false}},
        "y": {"field": "v", "type": "quantitative", "scale": {"domain": [50, 170], "nice": false, "zero": false}},
        "color": {"field": "s", "type": "nominal", "scale": {"domain": ["昭和52年度平均河床高","昭和63年度平均河床高","平成13年度平均河床高","平成15年度平均河床高","平成17年度平均河床高","左岸地盤高","右岸地盤高","左岸現況堤防高","右岸現況堤防高","計画堤防高","計画高水位"], "range": ["#2b3990","#5b9bd5","#f2e33a","#e9b23c","#d9589b","#111111","#111111","#111111","#d9a3b8","#2f9a3c","#e0402a"]}, "legend": {"title": null}},
        "strokeDash": {"field": "s", "type": "nominal", "scale": {"domain": ["昭和52年度平均河床高","昭和63年度平均河床高","平成13年度平均河床高","平成15年度平均河床高","平成17年度平均河床高","左岸地盤高","右岸地盤高","左岸現況堤防高","右岸現況堤防高","計画堤防高","計画高水位"], "range": [[1,0],[1,0],[1,0],[1,0],[1,0],[1,0],[1,0],[6,3,1.5,3],[2,2],[1,0],[1,0]]}, "legend": {"title": null}},
        "shape": {"field": "s", "type": "nominal", "scale": {"domain": ["昭和52年度平均河床高","昭和63年度平均河床高","平成13年度平均河床高","平成15年度平均河床高","平成17年度平均河床高","左岸地盤高","右岸地盤高","左岸現況堤防高","右岸現況堤防高","計画堤防高","計画高水位"], "range": ["M-3.2,0L3.2,0","M-3.2,0L3.2,0","M-3.2,0L3.2,0","M-3.2,0L3.2,0","M-3.2,0L3.2,0","M-0.65,0A0.65,0.65 0 1,1 0.65,0A0.65,0.65 0 1,1 -0.65,0","M-0.6,-0.6L0.6,0.6M-0.6,0.6L0.6,-0.6","M-3.2,0L3.2,0","M-3.2,0L3.2,0","M-3.2,0L3.2,0","M-3.2,0L3.2,0"]}, "legend": {"title": null}}
      }
    }
  ]
}
